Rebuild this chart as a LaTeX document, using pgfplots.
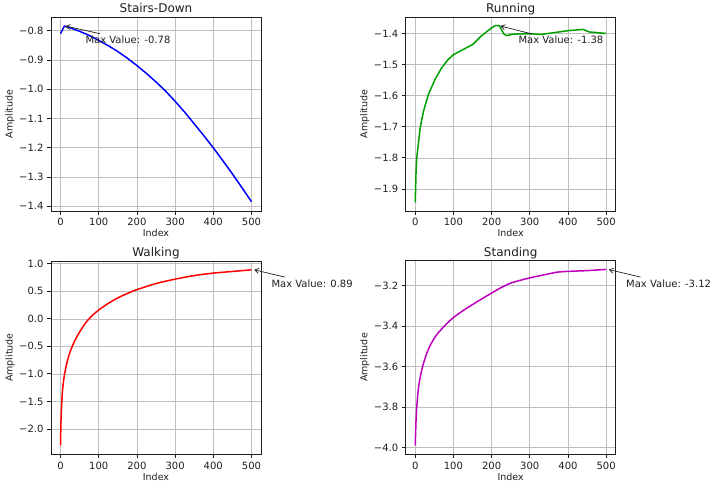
\documentclass[border=0pt]{standalone}
\usepackage{fontspec}
\setmainfont{DejaVu Sans}
\usepackage{pgfplots}
\pgfplotsset{compat=1.18}
\usetikzlibrary{arrows.meta}
\definecolor{cblue}{RGB}{0,0,255}
\definecolor{cgreen}{RGB}{0,160,0}
\definecolor{cred}{RGB}{255,0,0}
\definecolor{cmag}{RGB}{191,0,191}
\definecolor{ink}{RGB}{30,30,30}
\pgfplotsset{
  panel/.style={
    scale only axis, width=210pt, height=194pt,
    xmin=-25, xmax=525, xtick={0,100,200,300,400,500},
    xtick pos=left, ytick pos=left,
    grid=major, grid style={color=gray!50, line width=0.6pt},
    axis line style={line width=0.8pt, ink},
    tick align=outside, major tick length=4pt,
    tick style={ink, line width=0.8pt},
    tick label style={font=\fontsize{10}{12}\selectfont, text=ink},
    /pgf/number format/assume math mode=true,
    xlabel={Index}, ylabel={Amplitude},
    every axis x label/.style={at={(axis description cs:0.5,-0.115)}, anchor=center, font=\fontsize{9.5}{11}\selectfont, text=ink},
    every axis y label/.style={at={(axis description cs:-0.195,0.5)}, rotate=90, anchor=center, font=\fontsize{9.5}{11}\selectfont, text=ink},
    every axis title/.style={at={(axis description cs:0.5,1)}, anchor=base, yshift=4.5pt, font=\fontsize{12}{14}\selectfont, text=ink},
    clip=false,
  },
  curve/.style={line width=1.5pt, no markers, line join=round},
}
\tikzset{
  annarrow/.style={-{Straight Barb[length=4pt,width=5pt]}, line width=0.7pt, ink},
  ann/.style={font=\fontsize{10}{12}\selectfont, text=ink, anchor=west, inner sep=0pt},
}
\begin{document}
\begin{tikzpicture}
\useasboundingbox (0,0) rectangle (715pt,486pt);

% Stairs-Down
\begin{axis}[panel, at={(51pt,275pt)}, anchor=south west, title={Stairs-Down},
  ymin=-1.416, ymax=-0.753,
  ytick={-1.4,-1.3,-1.2,-1.1,-1.0,-0.9,-0.8},
  yticklabels={−1.4,−1.3,−1.2,−1.1,−1.0,−0.9,−0.8}]
\addplot[curve, cblue] coordinates {
 (0,-0.810)(10,-0.784)(25,-0.790)(50,-0.802)(75,-0.816)(100,-0.833)(125,-0.851)
 (150,-0.871)(175,-0.894)(200,-0.919)(225,-0.946)(250,-0.975)(275,-1.006)
 (300,-1.041)(325,-1.078)(350,-1.118)(375,-1.158)(400,-1.200)(425,-1.244)
 (450,-1.289)(475,-1.336)(500,-1.384)};
\draw[annarrow] (axis cs:103,-0.810) -- (axis cs:13,-0.784);
\node[ann] at (axis cs:65,-0.831) {Max Value: -0.78};
\end{axis}

% Running
\begin{axis}[panel, at={(405.7pt,275pt)}, anchor=south west, title={Running},
  ymin=-1.971, ymax=-1.347,
  ytick={-1.9,-1.8,-1.7,-1.6,-1.5,-1.4},
  yticklabels={−1.9,−1.8,−1.7,−1.6,−1.5,−1.4}]
\addplot[curve, cgreen] coordinates {
 (0,-1.943)(2,-1.85)(4,-1.80)(6.9,-1.768)(12.9,-1.704)(21.6,-1.650)(34.5,-1.596)
 (51.7,-1.548)(69,-1.511)(86,-1.484)(100,-1.468)(125,-1.452)(151,-1.435)
 (172,-1.409)(200,-1.382)(209,-1.375)(220,-1.375)(233,-1.403)(240,-1.407)
 (255,-1.402)(300,-1.401)(330,-1.403)(360,-1.398)(400,-1.391)(440,-1.387)
 (455,-1.395)(500,-1.400)};
\draw[annarrow] (axis cs:307,-1.402) -- (axis cs:223,-1.376);
\node[ann] at (axis cs:270,-1.421) {Max Value: -1.38};
\end{axis}

% Walking
\begin{axis}[panel, at={(51pt,31.7pt)}, anchor=south west, height=193.3pt, title={Walking},
  ymin=-2.46, ymax=1.05,
  ytick={-2.0,-1.5,-1.0,-0.5,0.0,0.5,1.0},
  yticklabels={−2.0,−1.5,−1.0,−0.5,0.0,0.5,1.0}]
\addplot[curve, cred, smooth, tension=0.5] coordinates {
 (0,-2.30)(1,-1.90)(3,-1.55)(5,-1.32)(8,-1.12)(12,-0.95)(20,-0.71)(30,-0.51)
 (40,-0.36)(50,-0.24)(65,-0.08)(80,0.04)(100,0.16)(125,0.28)(150,0.38)
 (175,0.46)(200,0.53)(250,0.64)(300,0.72)(350,0.785)(400,0.83)(450,0.86)(500,0.89)};
\draw[annarrow] (axis cs:588,0.757) -- (axis cs:507,0.89);
\node[ann] at (axis cs:552,0.63) {Max Value: 0.89};
\end{axis}

% Standing
\begin{axis}[panel, at={(405.7pt,31.7pt)}, anchor=south west, height=193.6pt, title={Standing},
  ymin=-4.034, ymax=-3.077,
  ytick={-4.0,-3.8,-3.6,-3.4,-3.2},
  yticklabels={−4.0,−3.8,−3.6,−3.4,−3.2}]
\addplot[curve, cmag, smooth, tension=0.5] coordinates {
 (0,-3.99)(2,-3.87)(4,-3.80)(7,-3.73)(10,-3.685)(15,-3.635)(20,-3.595)(30,-3.535)
 (40,-3.493)(50,-3.460)(60,-3.434)(80,-3.393)(100,-3.358)(125,-3.324)(150,-3.294)
 (175,-3.265)(200,-3.237)(225,-3.21)(250,-3.188)(275,-3.174)(300,-3.162)
 (350,-3.142)(380,-3.132)(450,-3.126)(500,-3.12)};
\draw[annarrow] (axis cs:590,-3.158) -- (axis cs:507,-3.121);
\node[ann] at (axis cs:552,-3.192) {Max Value: -3.12};
\end{axis}
\end{tikzpicture}
\end{document}
